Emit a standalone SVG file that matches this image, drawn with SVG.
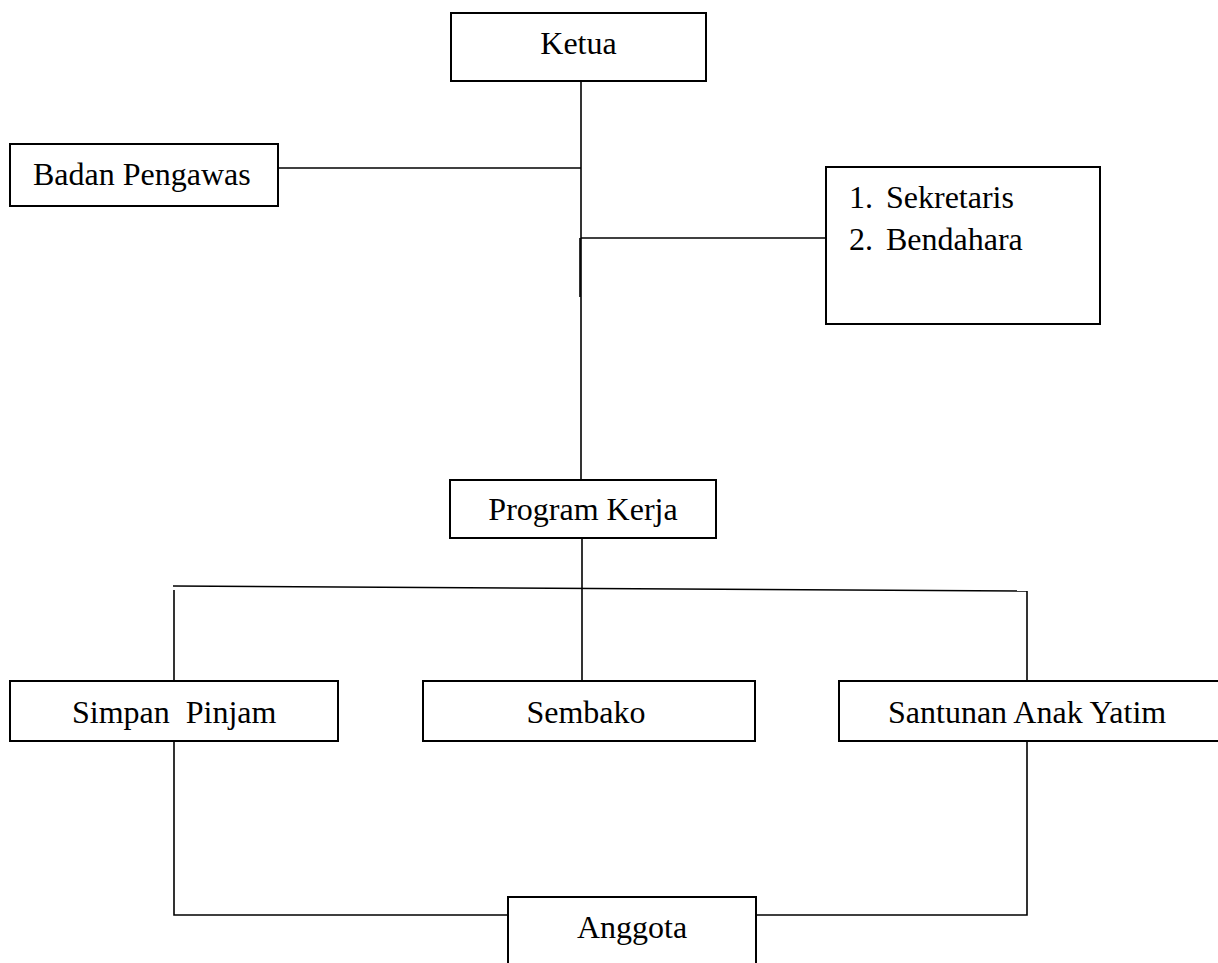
<svg xmlns="http://www.w3.org/2000/svg" width="1218" height="963" viewBox="0 0 1218 963">
<style>
.box{fill:#fff;stroke:#000;stroke-width:2}
.ln{fill:none;stroke:#000;stroke-width:1.6}
.t{font-family:"Liberation Serif","Times New Roman",serif;font-size:32px;fill:#000}
.c{text-anchor:middle}
</style>
<rect width="1218" height="963" fill="#fff"/>
<g id="connectors">
<line class="ln" x1="581" y1="81" x2="581" y2="481"/>
<line class="ln" x1="580" y1="238" x2="580" y2="297"/>
<line class="ln" x1="278" y1="168" x2="581" y2="168"/>
<line class="ln" x1="581" y1="238" x2="826" y2="238"/>
<line class="ln" x1="582" y1="528" x2="582" y2="681"/>
<line class="ln" x1="173" y1="586" x2="1027" y2="591"/>
<line class="ln" x1="174" y1="590" x2="174" y2="695"/>
<line class="ln" x1="1027" y1="591" x2="1027" y2="695"/>
<polyline class="ln" points="174,741 174,915 508,915"/>
<polyline class="ln" points="1027,741 1027,915 756,915"/>
</g>
<g id="ketua">
<rect class="box" x="451" y="13" width="255" height="68"/>
<text class="t c" x="578.5" y="54">Ketua</text>
</g>
<g id="badan-pengawas">
<rect class="box" x="10" y="144" width="268" height="62"/>
<text class="t" x="33" y="185">Badan Pengawas</text>
</g>
<g id="sekretaris-bendahara">
<rect class="box" x="826" y="167" width="274" height="157"/>
<text class="t" x="849" y="208">1.</text>
<text class="t" x="886" y="208">Sekretaris</text>
<text class="t" x="849" y="250">2.</text>
<text class="t" x="886" y="250">Bendahara</text>
</g>
<g id="program-kerja">
<rect class="box" x="450" y="480" width="266" height="58"/>
<text class="t c" x="583" y="520">Program Kerja</text>
</g>
<g id="simpan-pinjam">
<rect class="box" x="10" y="681" width="328" height="60"/>
<text class="t" x="72" y="723" xml:space="preserve">Simpan  Pinjam</text>
</g>
<g id="sembako">
<rect class="box" x="423" y="681" width="332" height="60"/>
<text class="t c" x="586" y="723">Sembako</text>
</g>
<g id="santunan-anak-yatim">
<rect class="box" x="839" y="681" width="385" height="60"/>
<text class="t" x="888" y="723">Santunan Anak Yatim</text>
</g>
<g id="anggota">
<rect class="box" x="508" y="897" width="248" height="80"/>
<text class="t c" x="632" y="938">Anggota</text>
</g>
</svg>
